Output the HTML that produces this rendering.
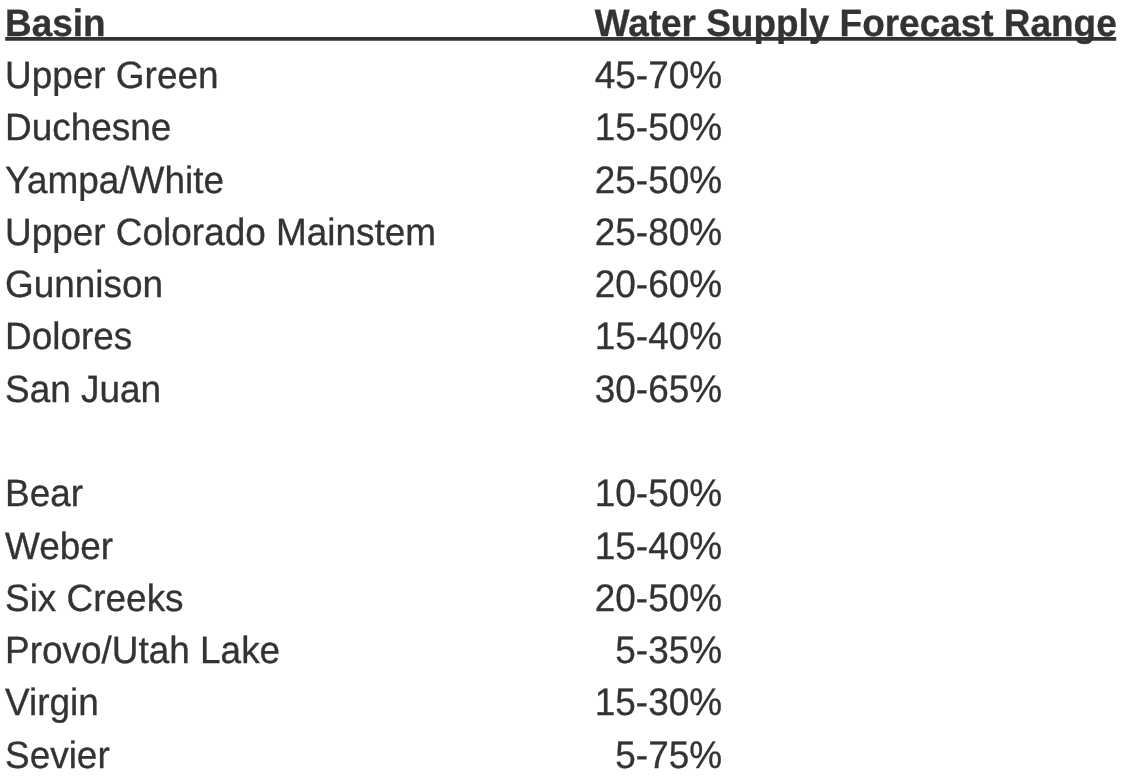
<!DOCTYPE html>
<html lang="en">
<head>
<meta charset="utf-8">
<title>Water Supply Forecast Range</title>
<style>
  html, body { margin: 0; padding: 0; background: #ffffff; }
  body {
    width: 1130px; height: 782px; overflow: hidden; position: relative;
    font-family: "Liberation Sans", Arial, Helvetica, sans-serif;
    font-size: 36.95px; line-height: 50.0px; color: #333333;
    text-rendering: geometricPrecision;
  }
  .row {
    position: absolute; left: 0; top: 0; width: 1130px; height: 50.0px;
    white-space: nowrap;
    -webkit-text-stroke: 0.3px #333333;
  }
  .row span { position: absolute; top: 0; display: block; height: 50.0px; transform-origin: 0 0; }
  .name { left: 5.0px; }
  .num  { left: 594.6px; width: 127.5px; text-align: right; }
  .head { font-weight: bold; -webkit-text-stroke-width: 0.3px; }
  .head .num { left: 594.7px; width: auto; text-align: left; }
  svg.rule { position: absolute; left: 0; top: 0; width: 1130px; height: 60px; overflow: visible; }
</style>
</head>
<body>
<div class="row head"><span class="name" style="transform: translateY(-2.295px) scaleY(1.035)">Basin</span><span class="num" style="transform: translateY(-2.295px) scaleY(1.035)">Water Supply Forecast Range</span></div>
<div class="row"><span class="name" style="transform: translateY(49.890px) scaleY(1.03)">Upper Green</span><span class="num" style="transform: translateY(49.520px) scaleY(1.04)">45-70%</span></div>
<div class="row"><span class="name" style="transform: translateY(101.890px) scaleY(1.03)">Duchesne</span><span class="num" style="transform: translateY(101.520px) scaleY(1.04)">15-50%</span></div>
<div class="row"><span class="name" style="transform: translateY(154.890px) scaleY(1.03)">Yampa/White</span><span class="num" style="transform: translateY(154.520px) scaleY(1.04)">25-50%</span></div>
<div class="row"><span class="name" style="transform: translateY(206.890px) scaleY(1.03)">Upper Colorado Mainstem</span><span class="num" style="transform: translateY(206.520px) scaleY(1.04)">25-80%</span></div>
<div class="row"><span class="name" style="transform: translateY(258.890px) scaleY(1.03)">Gunnison</span><span class="num" style="transform: translateY(258.520px) scaleY(1.04)">20-60%</span></div>
<div class="row"><span class="name" style="transform: translateY(310.890px) scaleY(1.03)">Dolores</span><span class="num" style="transform: translateY(310.520px) scaleY(1.04)">15-40%</span></div>
<div class="row"><span class="name" style="transform: translateY(363.890px) scaleY(1.03)">San Juan</span><span class="num" style="transform: translateY(363.520px) scaleY(1.04)">30-65%</span></div>
<div class="row"><span class="name" style="transform: translateY(467.890px) scaleY(1.03)">Bear</span><span class="num" style="transform: translateY(467.520px) scaleY(1.04)">10-50%</span></div>
<div class="row"><span class="name" style="transform: translateY(520.890px) scaleY(1.03)">Weber</span><span class="num" style="transform: translateY(520.520px) scaleY(1.04)">15-40%</span></div>
<div class="row"><span class="name" style="transform: translateY(572.890px) scaleY(1.03)">Six Creeks</span><span class="num" style="transform: translateY(572.520px) scaleY(1.04)">20-50%</span></div>
<div class="row"><span class="name" style="transform: translateY(624.890px) scaleY(1.03)">Provo/Utah Lake</span><span class="num" style="transform: translateY(624.520px) scaleY(1.04)">5-35%</span></div>
<div class="row"><span class="name" style="transform: translateY(676.890px) scaleY(1.03)">Virgin</span><span class="num" style="transform: translateY(676.520px) scaleY(1.04)">15-30%</span></div>
<div class="row"><span class="name" style="transform: translateY(729.890px) scaleY(1.03)">Sevier</span><span class="num" style="transform: translateY(729.520px) scaleY(1.04)">5-75%</span></div>
<svg class="rule" viewBox="0 0 1130 60" aria-hidden="true"><rect x="5.2" y="37.0" width="1111.0" height="3.75" fill="#333333"/></svg>
</body>
</html>
